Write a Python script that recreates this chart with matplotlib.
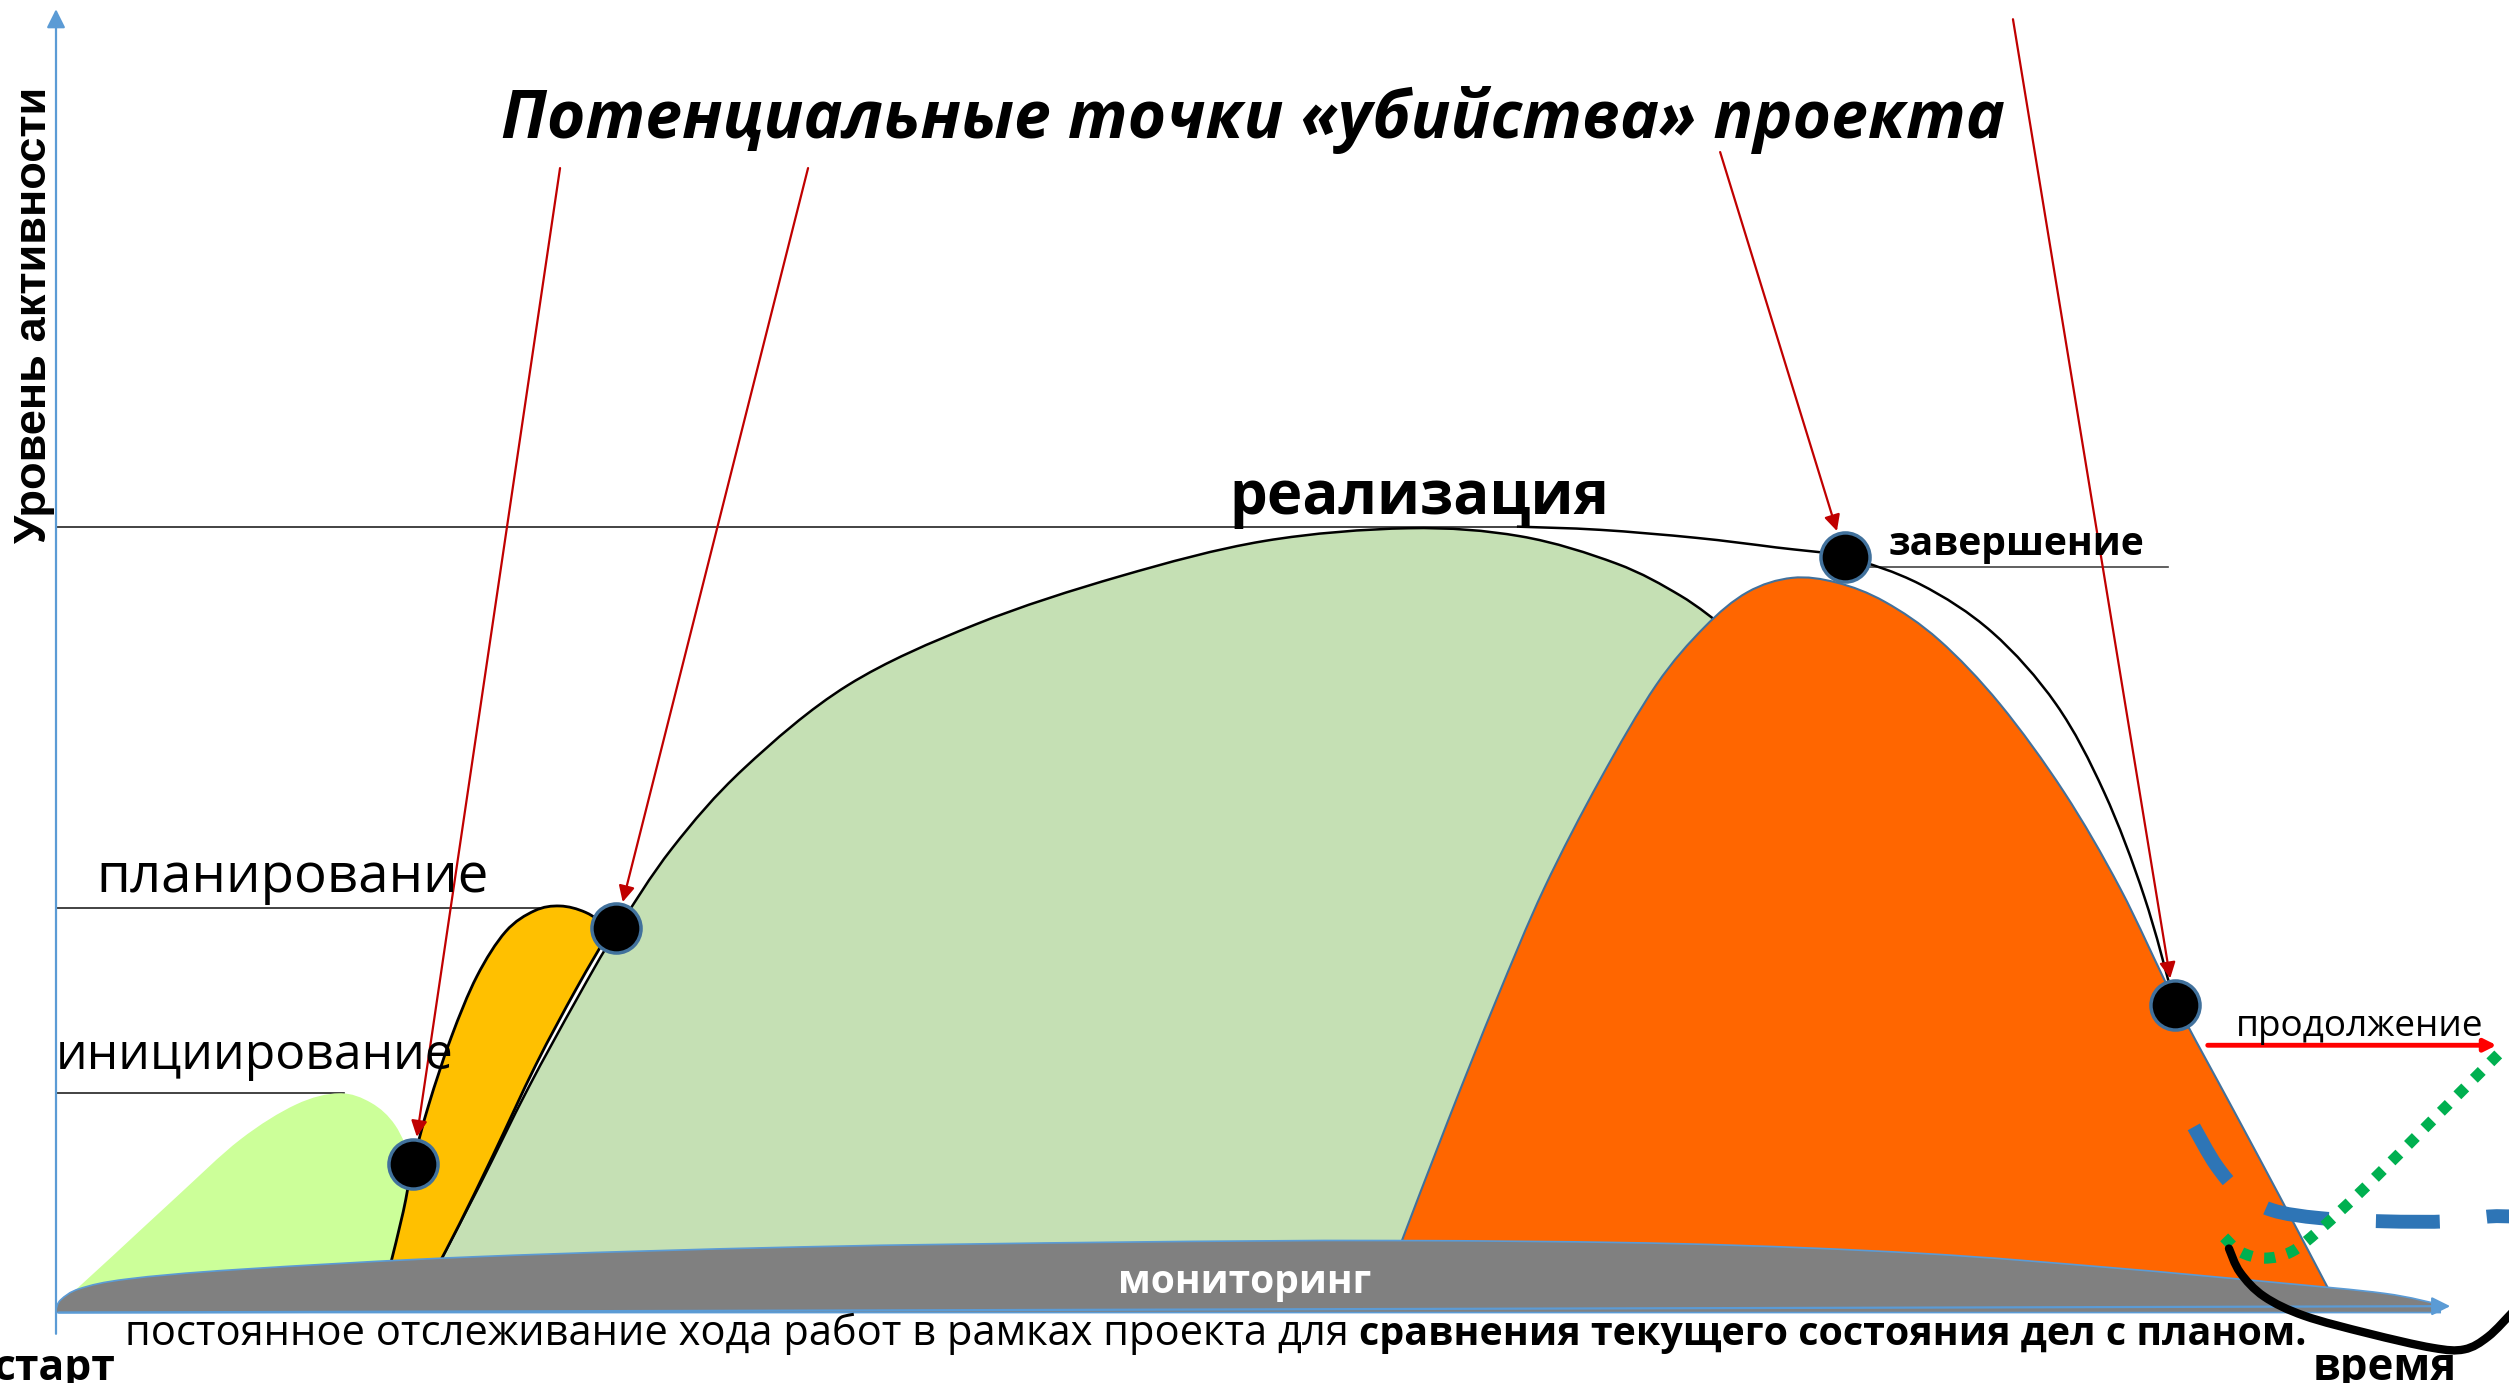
import numpy as np
import matplotlib
matplotlib.use("Agg")
import matplotlib.pyplot as plt
from matplotlib.path import Path
from matplotlib.patches import PathPatch

# ---------------- data (diagram units: 1568 x 864 canvas, y downward) ----------------
init_x = [35, 70, 110, 150, 185, 212, 232, 247, 258, 266]
init_y = [817, 785, 748, 712, 690, 683, 689, 703, 727, 752]

plan_left_x = [244, 252, 258, 268, 282, 298, 316, 334, 350, 366, 382]
plan_left_y = [790, 757, 727, 690, 648, 610, 582, 569, 566, 570, 580]
plan_right_x = [382, 360, 335, 308, 287, 274]
plan_right_y = [580, 618, 665, 722, 765, 790]

real_x = [274, 300, 330, 360, 385, 420, 465, 530, 610, 700, 790, 880, 950, 1010, 1050, 1078]
real_y = [790, 740, 680, 625, 582, 530, 480, 428, 390, 360, 338, 330, 335, 352, 372, 392]

comp_x = [875, 905, 935, 965, 1000, 1035, 1065, 1092, 1120, 1148, 1178, 1212, 1250, 1290, 1325, 1359, 1395, 1425, 1455]
comp_y = [778, 700, 625, 555, 487, 428, 392, 370, 361, 364, 376, 400, 440, 495, 555, 625, 692, 748, 805]

env_x = [948, 1000, 1060, 1110, 1153, 1200, 1245, 1285, 1315, 1340, 1359, 1366, 1372]
env_y = [329, 331, 336, 342, 348, 365, 395, 440, 495, 560, 628, 665, 703]

mon_x = [35, 38, 50, 80, 150, 300, 500, 700, 870, 1050, 1200, 1320, 1420, 1490, 1525]
mon_y = [818, 812, 805, 799, 793, 785, 779, 776, 775, 777, 783, 792, 801, 808, 815]

level_y = [683, 567, 329]
level_xend = [215, 350, 948]

kill_x = [258, 385, 1153, 1359]
kill_y = [727, 580, 348, 628]
arrow_from_x = [350, 505, 1075, 1258]
arrow_from_y = [105, 105, 95, 12]

blue_x = [1371, 1385, 1400, 1420, 1450, 1490, 1530, 1555, 1572]
blue_y = [704, 728, 745, 756, 761, 763, 763, 760, 760]
green_x = [1390, 1400, 1415, 1432, 1450, 1480, 1520, 1566]
green_y = [773, 782, 786, 782, 768, 740, 700, 654]
black_x = [1393, 1400, 1415, 1440, 1480, 1520, 1540, 1555, 1570]
black_y = [780, 795, 810, 822, 833, 842, 843, 835, 820]

# ---------------- figure ----------------
W, H = 1568, 864
SC = 2509 / 1568
plt.rcParams['font.family'] = ['Open Sans', 'DejaVu Sans']
fig = plt.figure(figsize=(25.09, 13.83), dpi=100)
ax = fig.add_axes([0, 0, 1, 1])
ax.set_xlim(0, W)
ax.set_ylim(H, 0)
ax.axis('off')
renderer = fig.canvas.get_renderer()


def smooth(xs, ys):
    P = np.column_stack([xs, ys]).astype(float)
    n = len(P)
    verts = [P[0]]
    codes = [Path.MOVETO]
    for i in range(n - 1):
        p0 = P[i - 1] if i > 0 else P[i]
        p1, p2 = P[i], P[i + 1]
        p3 = P[i + 2] if i + 2 < n else P[i + 1]
        verts += [p1 + (p2 - p0) / 6, p2 - (p3 - p1) / 6, p2]
        codes += [Path.CURVE4] * 3
    return verts, codes


def shape(chains, close=True):
    V, C = [], []
    for k, (xs, ys) in enumerate(chains):
        v, c = smooth(xs, ys)
        if k > 0:
            c[0] = Path.LINETO
        V += v
        C += c
    if close:
        V.append(V[0])
        C.append(Path.CLOSEPOLY)
    return Path(V, C)


def fit_text(x, y, s, width, rot=0, **kw):
    t = ax.text(x, y, s, fontsize=20, rotation=rot, **kw)
    bb = t.get_window_extent(renderer)
    ext = bb.height if rot else bb.width
    t.set_fontsize(20 * width * SC / ext)
    return t


# level lines
for ly, lx in zip(level_y, level_xend):
    ax.plot([35, lx], [ly, ly], color='#222222', lw=1.2, zorder=1)
ax.plot([1165, 1355], [354, 354], color='#444444', lw=1.2, zorder=1)

# shapes
ax.add_patch(PathPatch(shape([(init_x, init_y), ([262, 35], [805, 819])]),
                       fc='#CCFF99', ec='none', zorder=2))
ax.add_patch(PathPatch(shape([(real_x, real_y), ([900, 875], [720, 790])]),
                       fc='#C5E0B4', ec='none', zorder=2))
ax.add_patch(PathPatch(shape([(real_x, real_y)], close=False), fc='none', ec='black', lw=1.8, zorder=3))
ax.add_patch(PathPatch(shape([(plan_left_x, plan_left_y), (plan_right_x, plan_right_y)]),
                       fc='#FFC000', ec='black', lw=2, zorder=3))
ax.add_patch(PathPatch(shape([(env_x, env_y)], close=False), fc='none', ec='black', lw=1.8, zorder=3))
ax.add_patch(PathPatch(shape([(comp_x, comp_y)]), fc='#FF6600', ec='#41719C', lw=1.5, zorder=4))
ax.add_patch(PathPatch(shape([(mon_x, mon_y), ([1525, 35], [820, 820])]),
                       fc='#808080', ec='#5B9BD5', lw=1.2, zorder=5))

# axes arrows
ax.annotate('', xy=(35, 4), xytext=(35, 835),
            arrowprops=dict(arrowstyle='-|>', color='#5B9BD5', lw=1.6, mutation_scale=28), zorder=6)
ax.annotate('', xy=(1533, 816), xytext=(35, 820),
            arrowprops=dict(arrowstyle='-|>', color='#5B9BD5', lw=1.6, mutation_scale=28), zorder=6)

# right-side scenario lines
ax.add_patch(PathPatch(shape([(blue_x, blue_y)], close=False), fc='none', ec='#2E75B6', lw=10,
                       ls=(0, (4.6, 3.4)), capstyle='butt', zorder=7))
ax.add_patch(PathPatch(shape([(green_x, green_y)], close=False), fc='none', ec='#00B050', lw=8,
                       ls=(0, (1, 1.1)), capstyle='butt', zorder=7))
ax.add_patch(PathPatch(shape([(black_x, black_y)], close=False), fc='none', ec='black', lw=6,
                       capstyle='round', zorder=7))
ax.annotate('', xy=(1562, 653), xytext=(1378, 653),
            arrowprops=dict(arrowstyle='-|>', color='#FF0000', lw=3.5, mutation_scale=18), zorder=7)

# kill points and red arrows
ax.scatter(kill_x, kill_y, s=1250, c='black', edgecolors='#41719C', linewidths=2.5, zorder=8)
for fx, fy, kx, ky in zip(arrow_from_x, arrow_from_y, kill_x, kill_y):
    d = np.array([kx - fx, ky - fy], float)
    u = d / np.hypot(*d)
    tip = np.array([kx, ky]) - 17 * u
    ax.annotate('', xy=tuple(tip), xytext=(fx, fy),
                arrowprops=dict(arrowstyle='-|>', color='#C00000', lw=1.6, mutation_scale=24,
                                shrinkA=0, shrinkB=0), zorder=9)

# texts
fit_text(313, 86, 'Потенциальные точки «убийства» проекта', 940,
         fontweight='bold', fontstyle='italic', va='baseline', ha='left', zorder=10)
fit_text(768, 321, 'реализация', 237, fontweight='bold', va='baseline', ha='left', zorder=10)
fit_text(1180, 347, 'завершение', 160, fontweight='bold', va='baseline', ha='left', zorder=10)
fit_text(60, 557, 'планирование', 245, va='baseline', ha='left', zorder=10)
fit_text(35, 668, 'инициирование', 248, va='baseline', ha='left', zorder=10)
fit_text(1397, 647, 'продолжение', 155, va='baseline', ha='left', zorder=10)
fit_text(778, 808, 'мониторинг', 158, fontweight='bold', color='white', va='baseline', ha='center', zorder=10)
fit_text(29, 197, 'Уровень активности', 285, rot=90, fontweight='bold', va='baseline', ha='center',
         rotation_mode='anchor', family=['Liberation Sans', 'DejaVu Sans'], zorder=10)
t1 = fit_text(78, 840, 'постоянное отслеживание хода работ в рамках проекта для ', 770,
              va='baseline', ha='left', zorder=10)
x1 = ax.transData.inverted().transform(t1.get_window_extent(renderer))[1][0]
fit_text(x1, 840, 'сравнения текущего состояния дел с планом.', 1440 - x1,
         fontweight='bold', va='baseline', ha='left', zorder=10)
fit_text(-4, 862, 'старт', 76, fontweight='bold', va='baseline', ha='left', zorder=10)
fit_text(1445, 862, 'время', 90, fontweight='bold', va='baseline', ha='left', zorder=10)

fig.savefig('out.png', dpi=100)
